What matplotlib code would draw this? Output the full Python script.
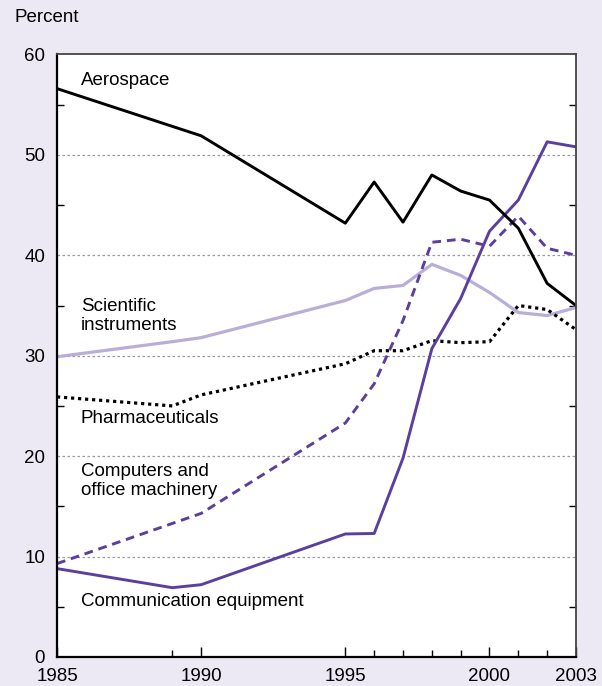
import numpy as np
import matplotlib.pyplot as plt

plt.rcParams['font.family'] = ['Liberation Sans', 'DejaVu Sans']

# Share of high-technology output (percent)
aero_years = [1985, 1990, 1995, 1996, 1997, 1998, 1999, 2000, 2001, 2002, 2003]
aerospace = [56.6, 51.9, 43.2, 47.3, 43.3, 48.0, 46.4, 45.5, 42.7, 37.2, 35.0]

years = [1985, 1989, 1990, 1995, 1996, 1997, 1998, 1999, 2000, 2001, 2002, 2003]
communication = [8.8, 6.9, 7.2, 12.25, 12.3, 19.8, 30.7, 35.7, 42.4, 45.5, 51.3, 50.8]
scientific = [29.9, 31.4, 31.8, 35.5, 36.7, 37.0, 39.1, 38.0, 36.3, 34.3, 34.0, 34.8]
pharma = [25.9, 25.0, 26.1, 29.2, 30.5, 30.5, 31.5, 31.3, 31.4, 35.0, 34.6, 32.6]

comp_years = [1985, 1990, 1995, 1996, 1997, 1998, 1999, 2000, 2001, 2002, 2003]
computers = [9.3, 14.3, 23.3, 27.2, 33.5, 41.3, 41.6, 40.9, 43.9, 40.7, 40.0]

bg = '#ECE9F4'
dark_purple = '#5B3F9F'
light_purple = '#B9AED8'

fig = plt.figure(figsize=(6.02, 6.86), dpi=100, facecolor=bg)
ax = fig.add_axes([0.0947, 0.0423, 0.8621, 0.8783])
ax.set_facecolor('white')

ax.plot(years, scientific, color=light_purple, lw=2.3)
ax.plot(years, pharma, color='black', lw=2.3, linestyle=(0, (1, 1.2)))
ax.plot(comp_years, computers, color=dark_purple, lw=2.1, linestyle=(0, (3, 2)))
ax.plot(years, communication, color=dark_purple, lw=2.1)
ax.plot(aero_years, aerospace, color='black', lw=2.1)

ax.set_xlim(1985, 2003)
ax.set_ylim(0, 60)

for y in range(10, 60, 10):
    ax.axhline(y, color='#9a9a9a', lw=0.9, linestyle=(0, (2, 2)), zorder=0)

ax.set_xticks([1985, 1990, 1995, 2000, 2003])
ax.set_xticks([1989, 1996, 1997, 1998, 1999, 2001, 2002], minor=True)
ax.set_yticks(range(0, 61, 10))
ax.set_yticks(range(5, 60, 10), minor=True)
ax.tick_params(axis='x', which='major', direction='in', length=7, width=1, labelsize=13.5, pad=8)
ax.tick_params(axis='x', which='minor', direction='in', length=5, width=1)
ax.tick_params(axis='y', which='major', length=0, labelsize=13.5, pad=8.5)
ax.tick_params(axis='y', which='minor', direction='in', length=5, width=1, right=True)

for s in ['left', 'bottom']:
    ax.spines[s].set_linewidth(1.6)
    ax.spines[s].set_color('black')
for s in ['top', 'right']:
    ax.spines[s].set_linewidth(1.3)
    ax.spines[s].set_color('#444444')

fig.text(14 / 602, 1 - 18 / 686, 'Percent', fontsize=13.5, ha='left', va='center')

lab = dict(fontsize=13.5, ha='left', va='center')
ax.text(1985.83, 57.4, 'Aerospace', **lab)
ax.text(1985.83, 34.0, 'Scientific\ninstruments', linespacing=1.15, **lab)
ax.text(1985.83, 23.7, 'Pharmaceuticals', **lab)
ax.text(1985.83, 17.5, 'Computers and\noffice machinery', linespacing=1.15, **lab)
ax.text(1985.83, 5.5, 'Communication equipment', **lab)

fig.savefig('out.png', dpi=100, facecolor=bg)
